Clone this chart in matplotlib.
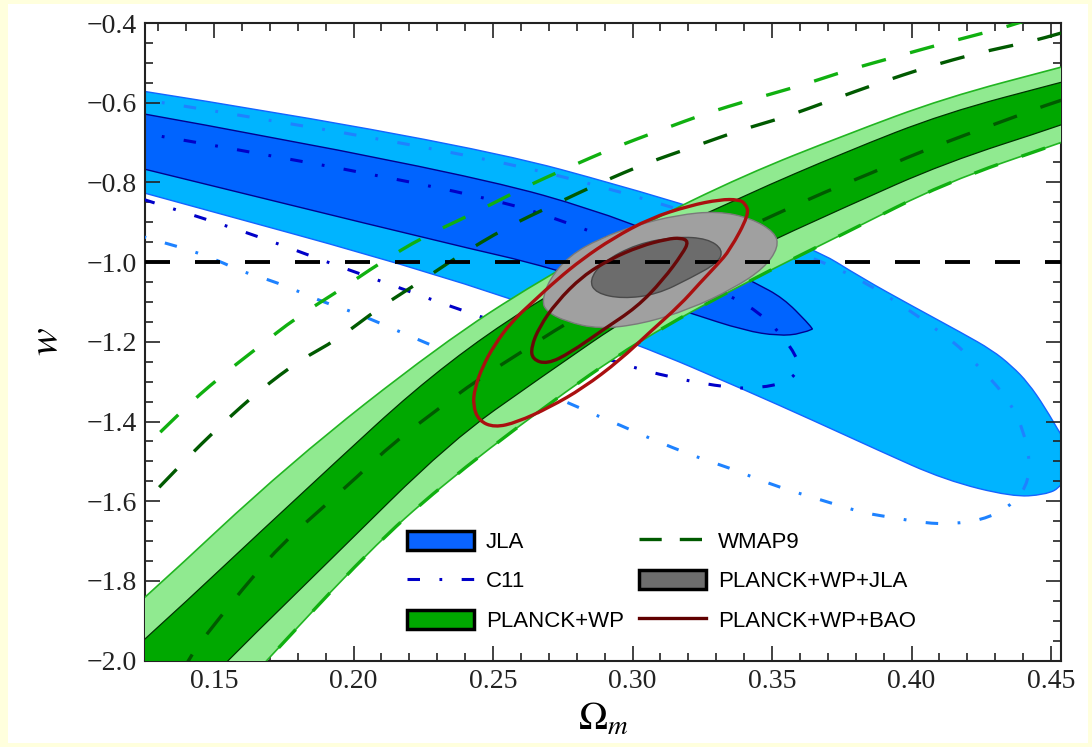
import matplotlib
matplotlib.use('Agg')
import matplotlib.pyplot as plt
from matplotlib.patches import Patch, Rectangle, PathPatch
from matplotlib.path import Path
from matplotlib.lines import Line2D
from matplotlib.ticker import MultipleLocator, FuncFormatter

plt.rcParams['font.family'] = ['Liberation Serif', 'DejaVu Serif']
plt.rcParams['mathtext.fontset'] = 'stix'
plt.rcParams['lines.scale_dashes'] = False

# JLA contours (edges)
jla_2s_upper_x = [0.120, 0.2346, 0.3145, 0.3643, 0.3822, 0.4002, 0.4181, 0.4289, 0.436, 0.4418, 0.4478,
                  0.454, 0.460]
jla_2s_upper_y = [-0.566, -0.692, -0.844, -0.962, -1.040, -1.110, -1.178, -1.221, -1.261, -1.303, -1.364,
                  -1.439, -1.500]
jla_2s_lower_x = [0.460, 0.454, 0.4478, 0.436, 0.412, 0.388, 0.3643, 0.3403, 0.3027, 0.2346, 0.120]
jla_2s_lower_y = [-1.500, -1.564, -1.584, -1.589, -1.547, -1.472, -1.396, -1.321, -1.208, -1.037, -0.817]
jla_1s_upper_x = [0.120, 0.2346, 0.3016, 0.3439, 0.3540, 0.3629, 0.3645]
jla_1s_upper_y = [-0.622, -0.766, -0.899, -1.052, -1.090, -1.153, -1.168]
jla_1s_lower_x = [0.3645, 0.3607, 0.3522, 0.3403, 0.3206, 0.2704, 0.2346, 0.120]
jla_1s_lower_y = [-1.168, -1.180, -1.185, -1.172, -1.128, -1.012, -0.955, -0.758]

# C11 contours
c11_1s_x = [0.120, 0.2346, 0.2894, 0.336, 0.3457, 0.3529, 0.359, 0.3597, 0.3554, 0.3457, 0.3349, 0.3145,
            0.2944, 0.2353, 0.2156, 0.1952, 0.1762, 0.1568, 0.1271, 0.120]
c11_1s_y = [-0.671, -0.808, -0.927, -1.088, -1.128, -1.178, -1.238, -1.271, -1.301, -1.316, -1.316, -1.291,
            -1.253, -1.113, -1.062, -1.012, -0.962, -0.914, -0.848, -0.832]
c11_2s_x = [0.120, 0.2310, 0.3109, 0.369, 0.3894, 0.4145, 0.4217, 0.4289, 0.436, 0.44, 0.4425, 0.4414,
            0.4346, 0.4253, 0.4145, 0.4048, 0.3941, 0.3833, 0.3737, 0.3643, 0.3536, 0.3439, 0.3349, 0.3242,
            0.3145, 0.3052, 0.2955, 0.2858, 0.2765, 0.2192, 0.2095, 0.1998, 0.1891, 0.1808, 0.1701, 0.1604,
            0.1511, 0.1414, 0.1314, 0.120]
c11_2s_y = [-0.587, -0.710, -0.848, -0.999, -1.074, -1.195, -1.246, -1.296, -1.359, -1.421, -1.497, -1.564,
            -1.617, -1.647, -1.657, -1.655, -1.642, -1.630, -1.610, -1.590, -1.567, -1.542, -1.517, -1.492,
            -1.466, -1.439, -1.409, -1.381, -1.351, -1.183, -1.153, -1.125, -1.100, -1.075, -1.045, -1.025,
            -0.995, -0.970, -0.950, -0.927]

# PLANCK+WP contours
planck_2s_upper_x = [0.115, 0.1253, 0.1772, 0.231, 0.2668, 0.3027, 0.3403, 0.3762, 0.412, 0.454, 0.465]
planck_2s_upper_y = [-1.905, -1.843, -1.504, -1.208, -1.045, -0.909, -0.781, -0.681, -0.588, -0.510, -0.490]
planck_2s_lower_x = [0.465, 0.454, 0.412, 0.3762, 0.3403, 0.3027, 0.2668, 0.231, 0.2059, 0.169, 0.161, 0.115]
planck_2s_lower_y = [-0.672, -0.699, -0.801, -0.927, -1.052, -1.195, -1.371, -1.564, -1.722, -1.999, -2.060, -2.060]
planck_1s_upper_x = [0.115, 0.1253, 0.1808, 0.2346, 0.2884, 0.3403, 0.3762, 0.412, 0.454, 0.465]
planck_1s_upper_y = [-2.010, -1.948, -1.584, -1.238, -1.002, -0.832, -0.724, -0.626, -0.548, -0.528]
planck_1s_lower_x = [0.465, 0.454, 0.412, 0.3762, 0.3403, 0.3027, 0.2668, 0.2346, 0.1916, 0.155, 0.147, 0.115]
planck_1s_lower_y = [-0.628, -0.656, -0.751, -0.862, -0.977, -1.118, -1.291, -1.451, -1.748, -1.999, -2.060, -2.060]

# WMAP9 contour edges
wmap_2s_up_x = [0.118, 0.1378, 0.1522, 0.1654, 0.1797, 0.1952, 0.2095, 0.2249, 0.2418, 0.2608, 0.2765,
                0.293, 0.3099, 0.3267, 0.3421, 0.3608, 0.3772, 0.3952, 0.412, 0.4299, 0.4396, 0.447]
wmap_2s_up_y = [-1.515, -1.376, -1.288, -1.216, -1.138, -1.070, -1.002, -0.937, -0.882, -0.814, -0.764,
                -0.714, -0.669, -0.626, -0.593, -0.556, -0.518, -0.483, -0.450, -0.418, -0.397, -0.380]
wmap_2s_lo_x = [0.161, 0.169, 0.2059, 0.231, 0.2668, 0.3027, 0.3403, 0.3762, 0.412, 0.454, 0.465]
wmap_2s_lo_y = [-2.060, -1.999, -1.722, -1.564, -1.371, -1.195, -1.052, -0.927, -0.801, -0.699, -0.672]
wmap_1s_up_x = [0.118, 0.1378, 0.1532, 0.1665, 0.1808, 0.1941, 0.2095, 0.2249, 0.2371, 0.255, 0.2715,
                0.2884, 0.3052, 0.3217, 0.3385, 0.3547, 0.3715, 0.388, 0.4059, 0.4238, 0.4418, 0.454, 0.465]
wmap_1s_up_y = [-1.656, -1.509, -1.404, -1.321, -1.246, -1.195, -1.113, -1.045, -0.987, -0.912, -0.857,
                -0.801, -0.751, -0.711, -0.669, -0.636, -0.593, -0.551, -0.510, -0.475, -0.448, -0.425, -0.400]
wmap_1s_lo_x = [0.138, 0.1407, 0.1522, 0.1629, 0.1747, 0.188, 0.2013, 0.2142, 0.2299, 0.2443, 0.2597,
                0.2751, 0.3134, 0.3522, 0.369, 0.3858, 0.4023, 0.4192, 0.436, 0.4514, 0.465]
wmap_1s_lo_y = [-2.040, -1.994, -1.891, -1.798, -1.705, -1.622, -1.539, -1.454, -1.371, -1.296, -1.228,
                -1.158, -1.002, -0.877, -0.824, -0.776, -0.726, -0.681, -0.638, -0.598, -0.570]

# PLANCK+WP+JLA contours (closed)
pj_2s_x = [0.2676, 0.2702, 0.2774, 0.2882, 0.3016, 0.3159, 0.3305, 0.3425, 0.3510, 0.3524, 0.3472, 0.3362,
           0.3206, 0.3036, 0.2880, 0.2760, 0.2690]
pj_2s_y = [-1.097, -1.043, -0.984, -0.941, -0.907, -0.882, -0.872, -0.890, -0.925, -0.962, -1.015, -1.066,
           -1.118, -1.155, -1.168, -1.149, -1.123]
pj_1s_x = [0.2845, 0.2892, 0.3016, 0.3159, 0.3269, 0.3325, 0.3306, 0.3208, 0.3088, 0.2964, 0.2869]
pj_1s_y = [-1.046, -1.000, -0.954, -0.936, -0.941, -0.969, -1.002, -1.040, -1.081, -1.092, -1.078]

# PLANCK+WP+BAO contours (closed)
bao_2s_x = [0.3405, 0.3418, 0.3349, 0.3303, 0.3242, 0.317, 0.3063, 0.2955, 0.2823, 0.2704, 0.2586, 0.2505,
            0.2449, 0.2428, 0.2435, 0.2462, 0.2505, 0.2566, 0.2641, 0.2731, 0.2821, 0.2928, 0.3063, 0.3206,
            0.3314, 0.3380]
bao_2s_y = [-0.853, -0.880, -0.970, -1.007, -1.052, -1.108, -1.175, -1.246, -1.316, -1.364, -1.402, -1.415,
            -1.398, -1.359, -1.316, -1.263, -1.208, -1.150, -1.101, -1.043, -0.992, -0.941, -0.890, -0.858,
            -0.843, -0.843]
bao_1s_x = [0.3201, 0.3181, 0.3109, 0.3016, 0.2894, 0.2776, 0.2694, 0.2641, 0.2637, 0.2666, 0.2727, 0.2821,
            0.2919, 0.3027, 0.3124, 0.3173]
bao_1s_y = [-0.948, -0.977, -1.045, -1.113, -1.170, -1.228, -1.256, -1.244, -1.213, -1.163, -1.101, -1.035,
            -0.993, -0.960, -0.942, -0.939]

w_lcdm = -1.0
legend_labels = ['JLA', 'C11', 'PLANCK+WP', 'WMAP9', 'PLANCK+WP+JLA', 'PLANCK+WP+BAO']


def open_curve(xs, ys):
    # quadratic bezier through the traced points (midpoints as anchors)
    pts = list(zip(xs, ys))
    verts = [pts[0]]
    codes = [Path.MOVETO]
    for i in range(1, len(pts) - 1):
        mid = ((pts[i][0] + pts[i + 1][0]) / 2, (pts[i][1] + pts[i + 1][1]) / 2)
        verts += [pts[i], mid]
        codes += [Path.CURVE3, Path.CURVE3]
    verts.append(pts[-1])
    codes.append(Path.LINETO)
    return verts, codes


def band_path(ux, uy, lx, ly):
    v1, c1 = open_curve(ux, uy)
    v2, c2 = open_curve(lx, ly)
    c2[0] = Path.LINETO
    return Path(v1 + v2 + [v1[0]], c1 + c2 + [Path.CLOSEPOLY])


def loop_path(xs, ys):
    pts = list(zip(xs, ys))
    n = len(pts)
    mids = [((pts[i][0] + pts[(i + 1) % n][0]) / 2, (pts[i][1] + pts[(i + 1) % n][1]) / 2) for i in range(n)]
    verts = [mids[-1]]
    codes = [Path.MOVETO]
    for i in range(n):
        verts += [pts[i], mids[i]]
        codes += [Path.CURVE3, Path.CURVE3]
    verts.append(mids[-1])
    codes.append(Path.CLOSEPOLY)
    return Path(verts, codes)


def line_path(xs, ys):
    v, c = open_curve(xs, ys)
    return Path(v, c)


fig = plt.figure(figsize=(10.92, 7.47), dpi=100, facecolor='#ffffdd')
fig.patches.append(Rectangle((8 / 1092, 4 / 747), 1080 / 1092, 739 / 747, transform=fig.transFigure,
                             facecolor='white', edgecolor='none', zorder=-10))
ax = fig.add_axes([145 / 1092, 1 - 660.6 / 747, 916 / 1092, 637.6 / 747])

# JLA
ax.add_patch(PathPatch(band_path(jla_2s_upper_x, jla_2s_upper_y, jla_2s_lower_x, jla_2s_lower_y),
                       facecolor='#00b4ff', edgecolor='#1464ff', lw=1.0, zorder=1))
ax.add_patch(PathPatch(band_path(jla_1s_upper_x, jla_1s_upper_y, jla_1s_lower_x, jla_1s_lower_y),
                       facecolor='#0064ff', edgecolor='#000090', lw=1.0, zorder=2))

# C11
dashdot = (0, (9, 14, 2, 14))
ax.add_patch(PathPatch(line_path(c11_2s_x, c11_2s_y), fill=False, edgecolor='#1e82ff', lw=2.2,
                       linestyle=dashdot, zorder=3))
ax.add_patch(PathPatch(line_path(c11_1s_x, c11_1s_y), fill=False, edgecolor='#0000c8', lw=2.2,
                       linestyle=dashdot, zorder=3))

# PLANCK+WP
ax.add_patch(PathPatch(band_path(planck_2s_upper_x, planck_2s_upper_y, planck_2s_lower_x, planck_2s_lower_y),
                       facecolor='#90ea90', edgecolor='#22b522', lw=1.2, zorder=4))
ax.add_patch(PathPatch(band_path(planck_1s_upper_x, planck_1s_upper_y, planck_1s_lower_x, planck_1s_lower_y),
                       facecolor='#00a800', edgecolor='#003300', lw=0.9, zorder=5))

# WMAP9
dashed = (0, (18, 18))
for xs, ys, col in [(wmap_2s_up_x, wmap_2s_up_y, '#10b010'), (wmap_2s_lo_x, wmap_2s_lo_y, '#10b010'),
                    (wmap_1s_up_x, wmap_1s_up_y, '#005a00'), (wmap_1s_lo_x, wmap_1s_lo_y, '#005a00')]:
    ax.add_patch(PathPatch(line_path(xs, ys), fill=False, edgecolor=col, lw=2.4, linestyle=dashed, zorder=6))

# PLANCK+WP+JLA
ax.add_patch(PathPatch(loop_path(pj_2s_x, pj_2s_y), facecolor='#a0a0a0', edgecolor='#7a7a7a', lw=1.0, zorder=7))
ax.add_patch(PathPatch(loop_path(pj_1s_x, pj_1s_y), facecolor='#6c6c6c', edgecolor='#4a4a4a', lw=1.0, zorder=8))

# w = -1
ax.axhline(w_lcdm, color='black', lw=2.8, dashes=(18, 18), zorder=9)

# PLANCK+WP+BAO
ax.add_patch(PathPatch(loop_path(bao_2s_x, bao_2s_y), fill=False, edgecolor='#aa1010', lw=2.4, zorder=10))
ax.add_patch(PathPatch(loop_path(bao_1s_x, bao_1s_y), fill=False, edgecolor='#680808', lw=2.4, zorder=10))

ax.set_xlim(0.12527, 0.45358)
ax.set_ylim(-2.0, -0.4)
ax.xaxis.set_major_locator(MultipleLocator(0.05))
ax.xaxis.set_minor_locator(MultipleLocator(0.01))
ax.yaxis.set_major_locator(MultipleLocator(0.2))
ax.yaxis.set_minor_locator(MultipleLocator(0.05))
ax.xaxis.set_major_formatter(FuncFormatter(lambda v, p: '%.2f' % v))
ax.yaxis.set_major_formatter(FuncFormatter(lambda v, p: ('%.1f' % v).replace('-', '\u2212')))
ax.tick_params(which='both', direction='in', top=True, right=True, colors='#222222', width=1.2,
               labelsize=20, pad=6)
ax.tick_params(which='major', length=11)
ax.tick_params(which='minor', length=6)
for s in ax.spines.values():
    s.set_linewidth(1.5)
    s.set_color('#222222')

ax.set_xlabel(r'$\Omega_m$', fontsize=28, labelpad=6)
ax.set_ylabel(r'$w$', fontsize=30, labelpad=14)

handles = [
    Patch(facecolor='#0a64ff', edgecolor='black', lw=2.5),
    Line2D([], [], color='#0000c8', lw=2.2, dashes=(9, 14, 2, 14)),
    Patch(facecolor='#00a800', edgecolor='black', lw=2.5),
    Line2D([], [], color='#005a00', lw=2.4, dashes=(16, 13)),
    Patch(facecolor='#6e6e6e', edgecolor='black', lw=2.5),
    Line2D([], [], color='#600000', lw=2.4),
]
ax.legend(handles, legend_labels, ncol=2, loc='lower left', bbox_to_anchor=(0.286, 0.045),
          frameon=False, borderpad=0, borderaxespad=0, handlelength=3.0, handleheight=0.95,
          handletextpad=0.55, columnspacing=0.7, labelspacing=0.78,
          prop={'family': 'Liberation Sans', 'size': 16})

fig.savefig('out.png', dpi=100, facecolor=fig.get_facecolor())
